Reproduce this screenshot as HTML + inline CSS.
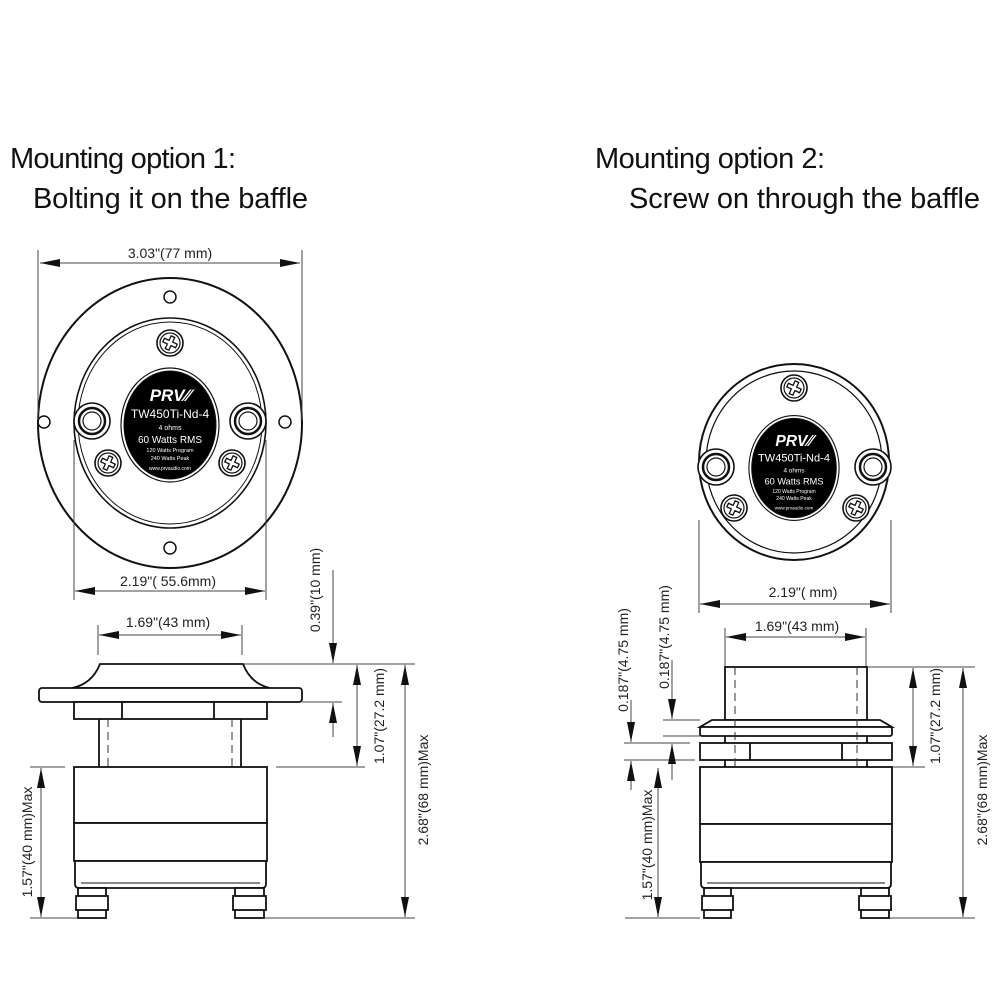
<!DOCTYPE html>
<html><head><meta charset="utf-8"><style>
html,body{margin:0;padding:0;background:#fff}
svg{display:block}
.t{font-family:"Liberation Sans Narrow","Liberation Sans",sans-serif;fill:#111}
.d{font-family:"Liberation Sans",sans-serif;font-size:14px;fill:#222}
</style></head><body>
<svg width="1000" height="1000" viewBox="0 0 1000 1000" xmlns="http://www.w3.org/2000/svg">
<defs>
<marker id="a" viewBox="0 0 20 8" refX="20" refY="4" markerWidth="20" markerHeight="8" markerUnits="userSpaceOnUse" orient="auto-start-reverse"><path d="M0,0L20,4L0,8z" fill="#111"/></marker>
<g id="screw"><circle r="13" fill="#fff" stroke="#111" stroke-width="1.6"/><circle r="10" fill="none" stroke="#111" stroke-width="1.2"/>
<path d="M-2,-7 L2,-7 L2,-2 L7,-2 L7,2 L2,2 L2,7 L-2,7 L-2,2 L-7,2 L-7,-2 L-2,-2z" fill="#fff" stroke="#111" stroke-width="1.3" transform="rotate(25)"/></g>
<g id="term"><circle r="18" fill="#fff" stroke="#111" stroke-width="1.6"/><circle r="13" fill="none" stroke="#111" stroke-width="2.5"/><circle r="9" fill="#fff" stroke="#111" stroke-width="1.2"/></g>
<g id="label"><ellipse rx="46" ry="54" fill="#000" stroke="#111" stroke-width="1"/><ellipse rx="49" ry="57" fill="none" stroke="#111" stroke-width="1.2"/>
<text y="-24" text-anchor="middle" font-family="Liberation Sans" font-style="italic" font-weight="bold" font-size="17" fill="#fff">PRV⁄⁄</text>
<text y="-7" text-anchor="middle" font-family="Liberation Sans Narrow,Liberation Sans" font-size="12" fill="#fff">TW450Ti-Nd-4</text>
<text y="5" text-anchor="middle" font-family="Liberation Sans" font-size="7" fill="#fff">4 ohms</text>
<text y="18" text-anchor="middle" font-family="Liberation Sans Narrow,Liberation Sans" font-size="10" fill="#fff">60 Watts RMS</text>
<text y="27" text-anchor="middle" font-family="Liberation Sans" font-size="5.5" fill="#fff">120 Watts Program</text>
<text y="35" text-anchor="middle" font-family="Liberation Sans" font-size="5.5" fill="#fff">240 Watts Peak</text>
<text y="45" text-anchor="middle" font-family="Liberation Sans" font-size="5" fill="#fff">www.prvaudio.com</text></g>
</defs>

<text class="t" x="10" y="168" font-size="29" textLength="226">Mounting option 1:</text>
<text class="t" x="33" y="208" font-size="29" textLength="275">Bolting it on the baffle</text>
<text class="t" x="595" y="168" font-size="29" textLength="230">Mounting option 2:</text>
<text class="t" x="629" y="208" font-size="29" textLength="351">Screw on through the baffle</text>

<g stroke="#111" fill="none">
<!-- LEFT FRONT -->
<ellipse cx="170" cy="423" rx="132" ry="145" stroke-width="2"/>
<ellipse cx="170" cy="423" rx="96" ry="105" stroke-width="1.6"/>
<ellipse cx="170" cy="423" rx="92" ry="101" stroke-width="1"/>
<circle cx="170" cy="297" r="6" stroke-width="1.5"/><circle cx="170" cy="548" r="6" stroke-width="1.5"/>
<circle cx="44" cy="422" r="6" stroke-width="1.5"/><circle cx="285" cy="422" r="6" stroke-width="1.5"/>
</g>
<use href="#term" x="92" y="421"/><use href="#term" x="248" y="421"/>
<use href="#screw" x="170" y="343"/><use href="#screw" x="108" y="463"/><use href="#screw" x="232" y="463"/>
<use href="#label" x="170" y="425"/>

<g stroke="#444" stroke-width="1" fill="none">
<line x1="38" y1="250" x2="38" y2="420"/><line x1="302" y1="250" x2="302" y2="420"/>
<line x1="40" y1="263" x2="300" y2="263" marker-start="url(#a)" marker-end="url(#a)"/>
<line x1="74" y1="440" x2="74" y2="600"/><line x1="266" y1="440" x2="266" y2="600"/>
<line x1="75" y1="591" x2="265" y2="591" marker-start="url(#a)" marker-end="url(#a)"/>
</g>
<text class="d" x="170" y="258" text-anchor="middle">3.03"(77 mm)</text>
<text class="d" x="168" y="586" text-anchor="middle">2.19"( 55.6mm)</text>

<!-- LEFT SIDE -->
<g stroke="#444" stroke-width="1" fill="none">
<line x1="98" y1="625" x2="98" y2="655"/><line x1="242" y1="625" x2="242" y2="655"/>
<line x1="99" y1="635" x2="241" y2="635" marker-start="url(#a)" marker-end="url(#a)"/>
<line x1="243" y1="664" x2="415" y2="664"/>
<line x1="333" y1="570" x2="333" y2="663" marker-end="url(#a)"/>
<line x1="302" y1="702" x2="342" y2="702"/>
<line x1="333" y1="737" x2="333" y2="703" marker-end="url(#a)"/>
<line x1="276" y1="767" x2="365" y2="767"/>
<line x1="357" y1="665" x2="357" y2="766" marker-start="url(#a)" marker-end="url(#a)"/>
<line x1="405" y1="665" x2="405" y2="917" marker-start="url(#a)" marker-end="url(#a)"/>
<line x1="265" y1="918" x2="415" y2="918"/>
<line x1="30" y1="767" x2="65" y2="767"/><line x1="30" y1="918" x2="80" y2="918"/>
<line x1="41" y1="768" x2="41" y2="917" marker-start="url(#a)" marker-end="url(#a)"/>
</g>
<text class="d" x="168" y="627" text-anchor="middle">1.69"(43 mm)</text>
<text class="d" transform="translate(320,590) rotate(-90)" text-anchor="middle">0.39"(10 mm)</text>
<text class="d" transform="translate(384,716) rotate(-90)" text-anchor="middle">1.07"(27.2 mm)</text>
<text class="d" transform="translate(428,790) rotate(-90)" text-anchor="middle">2.68"(68 mm)Max</text>
<text class="d" transform="translate(32,842) rotate(-90)" text-anchor="middle">1.57"(40 mm)Max</text>

<g stroke="#111" stroke-width="1.8" fill="#fff">
<path d="M72,688 Q92,684 100,664 L243,664 Q251,684 270,688z"/>
<rect x="39" y="688" width="263" height="14" rx="3"/>
<rect x="74" y="702" width="193" height="17"/>
<line x1="122" y1="702" x2="122" y2="719"/><line x1="214" y1="702" x2="214" y2="719"/>
<line x1="99" y1="719" x2="99" y2="767"/><line x1="241" y1="719" x2="241" y2="767"/>
<rect x="74" y="767" width="193" height="56"/>
<rect x="74" y="823" width="193" height="38"/>
<path d="M75,861 L266,861 L266,884 Q266,888 262,888 L79,888 Q75,888 75,884z"/>
<line x1="81" y1="883" x2="260" y2="883" stroke-width="1"/>
<rect x="78" y="888" width="28" height="30"/><rect x="235" y="888" width="29" height="30"/>
<rect x="76" y="896" width="32" height="14"/><rect x="233" y="896" width="33" height="14"/>
</g>
<g stroke="#333" stroke-width="1" stroke-dasharray="8,5"><line x1="108" y1="719" x2="108" y2="767"/><line x1="232" y1="719" x2="232" y2="767"/></g>

<!-- RIGHT FRONT -->
<g stroke="#111" fill="none">
<ellipse cx="794" cy="462" rx="95" ry="98" stroke-width="2"/>
<ellipse cx="794" cy="462" rx="88" ry="91" stroke-width="1.2"/>
</g>
<use href="#term" x="716" y="467"/><use href="#term" x="873" y="467"/>
<use href="#screw" x="794" y="388"/><use href="#screw" x="734" y="508"/><use href="#screw" x="856" y="508"/>
<use href="#label" x="794" y="468" transform="translate(794,468) scale(0.92) translate(-794,-468)"/>

<g stroke="#444" stroke-width="1" fill="none">
<line x1="699" y1="520" x2="699" y2="613"/><line x1="891" y1="520" x2="891" y2="613"/>
<line x1="700" y1="604" x2="890" y2="604" marker-start="url(#a)" marker-end="url(#a)"/>
<line x1="725" y1="628" x2="725" y2="667"/><line x1="866" y1="628" x2="866" y2="667"/>
<line x1="726" y1="637" x2="865" y2="637" marker-start="url(#a)" marker-end="url(#a)"/>
<line x1="867" y1="667" x2="975" y2="667"/>
<line x1="913" y1="668" x2="913" y2="766" marker-start="url(#a)" marker-end="url(#a)"/>
<line x1="963" y1="668" x2="963" y2="917" marker-start="url(#a)" marker-end="url(#a)"/>
<line x1="890" y1="918" x2="975" y2="918"/>
<line x1="880" y1="767" x2="925" y2="767"/>
<line x1="672" y1="660" x2="672" y2="719" marker-end="url(#a)"/>
<line x1="663" y1="720" x2="700" y2="720"/><line x1="663" y1="736" x2="700" y2="736"/>
<line x1="624" y1="743" x2="690" y2="743"/><line x1="624" y1="760" x2="695" y2="760"/>
<line x1="631" y1="700" x2="631" y2="742" marker-end="url(#a)"/>
<line x1="672" y1="780" x2="672" y2="744" marker-end="url(#a)"/>
<line x1="631" y1="790" x2="631" y2="761" marker-end="url(#a)"/>
<line x1="658" y1="768" x2="658" y2="917" marker-start="url(#a)" marker-end="url(#a)"/>
<line x1="625" y1="918" x2="700" y2="918"/>
</g>
<text class="d" x="803" y="597" text-anchor="middle">2.19"( mm)</text>
<text class="d" x="797" y="631" text-anchor="middle">1.69"(43 mm)</text>
<text class="d" transform="translate(669,637) rotate(-90)" text-anchor="middle">0.187"(4.75 mm)</text>
<text class="d" transform="translate(628,660) rotate(-90)" text-anchor="middle">0.187"(4.75 mm)</text>
<text class="d" transform="translate(940,716) rotate(-90)" text-anchor="middle">1.07"(27.2 mm)</text>
<text class="d" transform="translate(987,790) rotate(-90)" text-anchor="middle">2.68"(68 mm)Max</text>
<text class="d" transform="translate(652,845) rotate(-90)" text-anchor="middle">1.57"(40 mm)Max</text>

<g stroke="#111" stroke-width="1.8" fill="#fff">
<rect x="725" y="667" width="142" height="53"/>
<line x1="725" y1="736" x2="725" y2="767"/><line x1="867" y1="736" x2="867" y2="767"/>
<path d="M712,720 L880,720 L892,727 L700,727z"/>
<rect x="700" y="727" width="192" height="9" rx="2"/>
<rect x="700" y="743" width="192" height="17"/>
<line x1="750" y1="743" x2="750" y2="760"/><line x1="842" y1="743" x2="842" y2="760"/>
<rect x="700" y="767" width="192" height="57"/>
<rect x="700" y="824" width="192" height="38"/>
<path d="M701,862 L891,862 L891,884 Q891,888 887,888 L705,888 Q701,888 701,884z"/>
<line x1="707" y1="883" x2="885" y2="883" stroke-width="1"/>
<rect x="704" y="888" width="27" height="30"/><rect x="861" y="888" width="28" height="30"/>
<rect x="702" y="896" width="31" height="14"/><rect x="859" y="896" width="32" height="14"/>
</g>
<g stroke="#333" stroke-width="1" stroke-dasharray="8,5"><line x1="735" y1="667" x2="735" y2="767"/><line x1="857" y1="667" x2="857" y2="767"/></g>
</svg>
</body></html>
